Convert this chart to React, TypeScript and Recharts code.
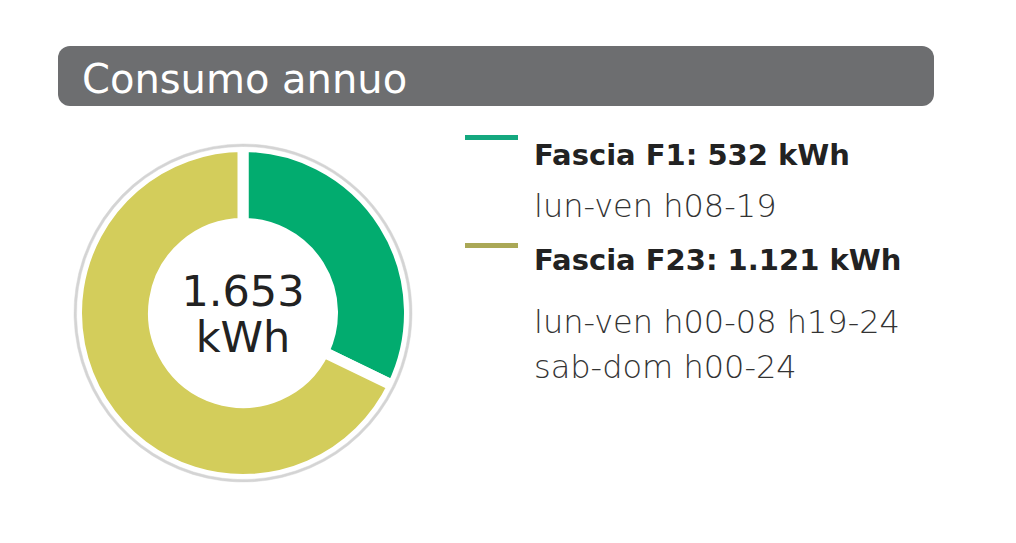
import { PieChart, Pie, Cell } from 'recharts'

const bands = ['Fascia F1', 'Fascia F23']
const kwh = [532, 1121]
const hours = [['lun-ven h08-19'], ['lun-ven h00-08 h19-24', 'sab-dom h00-24']]
const sliceColors = ['#02ac6f', '#d3cd5b']
const legendColors = ['#14a87f', '#aaa856']

const fmt = (n: number) => String(n).replace(/\B(?=(\d{3})+(?!\d))/g, '.')

const data = bands.map((name, i) => ({ name, value: kwh[i], color: sliceColors[i], legend: legendColors[i], hours: hours[i] }))
const total = kwh.reduce((a, b) => a + b, 0)

const FONT = '"DejaVu Sans", sans-serif'
const CX = 243
const CY = 313

// text line tops picked so baselines land where the reference has them
const titleTops = [140.5, 245.5]
const hourTops = [[190], [306, 351]]

export default function App() {
  return (
    <div style={{ position: 'absolute', left: 0, top: 0, width: 1016, height: 543, background: '#fff', fontFamily: FONT }}>
      <div
        style={{
          position: 'absolute', left: 58, top: 46, width: 876, height: 60, borderRadius: 12,
          background: '#6d6e70',
        }}
      />
      <div style={{ position: 'absolute', left: 82, top: 59, fontSize: 40, lineHeight: '40px', color: '#fff' }}>
        Consumo annuo
      </div>
      <PieChart width={1016} height={543} margin={{ top: 0, right: 0, bottom: 0, left: 0 }}
        style={{ position: 'absolute', left: 0, top: 0 }}>
        <Pie data={data} dataKey="value" cx={CX} cy={CY} innerRadius={89.5} outerRadius={166.5}
          startAngle={90} endAngle={-270} stroke="#fff" strokeWidth={11} isAnimationActive={false}>
          {data.map((d, i) => <Cell key={i} fill={d.color} />)}
        </Pie>
        <Pie data={data} dataKey="value" cx={CX} cy={CY} innerRadius={166.5} outerRadius={169}
          startAngle={90} endAngle={-270} stroke="#d4d4d4" strokeWidth={0.5} isAnimationActive={false}>
          {data.map((d, i) => <Cell key={i} fill="#d4d4d4" />)}
        </Pie>
      </PieChart>
      <div style={{ position: 'absolute', left: CX - 100, top: 270, width: 200, textAlign: 'center', fontSize: 43, lineHeight: '43px', color: '#222' }}>
        <div>{fmt(total)}</div>
        <div style={{ marginTop: 3 }}>kWh</div>
      </div>
      {data.map((d, i) => (
        <div key={i}>
          <span style={{ position: 'absolute', left: 465, top: i === 0 ? 135 : 243, width: 53, height: 5, backgroundColor: d.legend }} />
          <div style={{ position: 'absolute', left: 534, top: titleTops[i], fontSize: 29, fontWeight: 700, lineHeight: '29px', color: '#222', whiteSpace: 'nowrap' }}>
            {d.name}: {fmt(d.value)} kWh
          </div>
          {d.hours.map((h, j) => (
            <div key={j} style={{ position: 'absolute', left: 534, top: hourTops[i][j], fontSize: 32, fontWeight: 200, lineHeight: '32px', color: '#333', whiteSpace: 'nowrap' }}>{h}</div>
          ))}
        </div>
      ))}
    </div>
  )
}
